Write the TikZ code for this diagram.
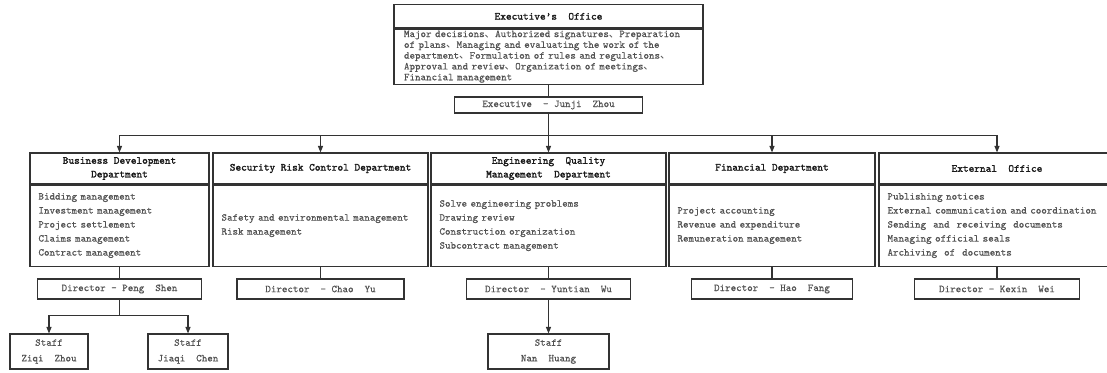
\documentclass[tikz,border=0pt]{standalone}
\usepackage{fontspec}
\newfontfamily\cjk{Noto Sans CJK SC}
\newfontfamily\bodytt{Latin Modern Mono}[FakeBold=0.45]
\newfontfamily\headtt{Latin Modern Mono}[FakeBold=1.6]
\usetikzlibrary{arrows.meta}
\newcommand{\dun}{{\cjk 、}}

\tikzset{
  frame/.style={draw=black!80, line width=1.1pt, inner sep=0pt, text=black!68,
    font=\bodytt\fontsize{10.5}{14}\selectfont},
  headbox/.style={frame, align=center, text=black!90,
    font=\headtt\fontsize{10.8}{13.7}\selectfont},
  listbox/.style={frame, align=left, inner xsep=8.5pt},
  namebox/.style={frame, align=center, minimum height=20pt},
  staffbox/.style={frame, align=center, minimum height=35pt,
    font=\bodytt\fontsize{10.5}{15.6}\selectfont},
  link/.style={draw=black!80, line width=1.1pt},
  arr/.style={link, -{Triangle[width=5pt,length=6.5pt]}},
}

\begin{document}
\begin{tikzpicture}[x=1pt,y=-1pt]
  \path[use as bounding box, clip] (0,0) rectangle (1107,372);

  % top office
  \node[headbox, minimum width=309pt, minimum height=23.3pt] (exT) at (548.5,16.35)
    {Executive’s\ \ Office};
  \node[listbox, anchor=north, text width=289pt, inner xsep=10pt, minimum height=55pt,
    font=\bodytt\fontsize{10.5}{10.8}\selectfont] (exB) at (exT.south)
    {Major decisions\dun Authorized signatures\dun Preparation\\
     of plans\dun Managing and evaluating the work of the\\
     department\dun Formulation of rules and regulations\dun\\
     Approval and review\dun Organization of meetings\dun\\
     Financial management};
  \node[namebox, minimum width=188pt, minimum height=16pt] (exD) at (548.5,105)
    {Executive\ \ –\ Junji\ \ Zhou};

  % departments: heading and duties
  \node[headbox, minimum width=179pt, minimum height=31pt] (bdT) at (119.5,168.5)
    {Business Development\\Department};
  \node[listbox, anchor=north, text width=162pt, minimum height=81pt] (bdB) at (bdT.south)
    {Bidding management\\Investment management\\Project settlement\\
     Claims management\\Contract management};

  \node[headbox, minimum width=215pt, minimum height=31pt] (srT) at (320.5,168.5)
    {Security Risk Control Department};
  \node[listbox, anchor=north, text width=198pt, minimum height=81pt] (srB) at (srT.south)
    {Safety and environmental management\\Risk management};

  \node[headbox, minimum width=235pt, minimum height=31pt] (eqT) at (548.5,168.5)
    {Engineering\ \ Quality\\Management\ \ Department};
  \node[listbox, anchor=north, text width=218pt, minimum height=81pt] (eqB) at (eqT.south)
    {Solve engineering problems\\Drawing review\\Construction organization\\
     Subcontract management};

  \node[headbox, minimum width=206pt, minimum height=31pt] (fdT) at (772,168.5)
    {Financial Department};
  \node[listbox, anchor=north, text width=189pt, minimum height=81pt] (fdB) at (fdT.south)
    {Project accounting\\Revenue and expenditure\\Remuneration management};

  \node[headbox, minimum width=236pt, minimum height=31pt] (eoT) at (997,168.5)
    {External\ \ Office};
  \node[listbox, anchor=north, text width=219pt, minimum height=81pt] (eoB) at (eoT.south)
    {Publishing notices\\External communication and coordination\\
     Sending\ \ and\ \ receiving\ \ documents\\Managing official seals\\
     Archiving\ \ of\ \ documents};

  % directors
  \node[namebox, minimum width=164pt] (bdD) at (119.5,289) {Director\ –\ Peng\ \ Shen};
  \node[namebox, minimum width=167pt] (srD) at (320.5,289) {Director\ \ –\ Chao\ \ Yu};
  \node[namebox, minimum width=164pt] (eqD) at (548.5,289) {Director\ \ –\ Yuntian\ \ Wu};
  \node[namebox, minimum width=161pt] (fdD) at (772,289) {Director\ \ –\ Hao\ \ Fang};
  \node[namebox, minimum width=165pt] (eoD) at (997,289) {Director\ –\ Kexin\ \ Wei};

  % staff
  \node[staffbox, minimum width=78pt] (s1) at (49,351.5) {Staff\\Ziqi\ \ Zhou};
  \node[staffbox, minimum width=80pt] (s2) at (188,351.5) {Staff\\Jiaqi\ \ Chen};
  \node[staffbox, minimum width=121pt] (s3) at (548.5,351.5) {Staff\\Nan\ \ Huang};

  % connectors
  \draw[link] (exB.south) -- (exD.north);
  \foreach \d in {bdT,srT,eqT,fdT,eoT}
    \draw[arr] (exD.south) -- ++(0,22) -| (\d.north);
  \foreach \d in {bd,sr,eq,fd,eo}
    \draw[link] (\d B.south) -- (\d D.north);
  \draw[arr] (bdD.south) -- ++(0,16) -| (s1.north);
  \draw[arr] (bdD.south) -- ++(0,16) -| (s2.north);
  \draw[arr] (eqD.south) -- (s3.north);
\end{tikzpicture}
\end{document}
